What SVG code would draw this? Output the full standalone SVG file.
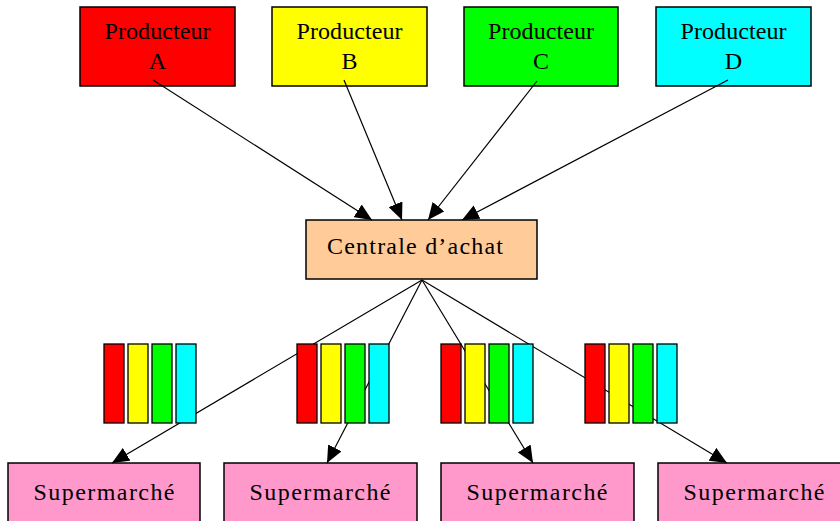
<svg xmlns="http://www.w3.org/2000/svg" width="840" height="521" viewBox="0 0 840 521">
<style>
.box{stroke:#000;stroke-width:1.5}
.bar{stroke:#000;stroke-width:1.3}
.t{font-family:"Liberation Serif","Times New Roman",serif;font-size:24px;fill:#000;text-anchor:middle}
.c{stroke:#000;stroke-width:1.2;fill:none}
.r{fill:#ff0000}.y{fill:#ffff00}.g{fill:#00ff00}.b{fill:#00ffff}
</style>
<defs>
<marker id="ah" markerUnits="userSpaceOnUse" markerWidth="17" markerHeight="15" refX="17" refY="7.5" orient="auto" viewBox="0 0 17 15">
<path d="M0,0 L17,7.5 L0,15 z" fill="#000"/>
</marker>
</defs>
<rect width="840" height="521" fill="#fff"/>
<g id="prodA"><rect class="box r" x="80" y="7" width="155" height="79"/><text class="t" x="157.5" y="39" textLength="106" lengthAdjust="spacing">Producteur</text><text class="t" x="157.5" y="69">A</text></g>
<g id="prodB"><rect class="box y" x="272" y="7" width="155" height="79"/><text class="t" x="349.5" y="39" textLength="106" lengthAdjust="spacing">Producteur</text><text class="t" x="349.5" y="69">B</text></g>
<g id="prodC"><rect class="box g" x="464" y="7" width="154" height="79"/><text class="t" x="541" y="39" textLength="106" lengthAdjust="spacing">Producteur</text><text class="t" x="541" y="69">C</text></g>
<g id="prodD"><rect class="box b" x="656" y="7" width="155" height="79"/><text class="t" x="733.5" y="39" textLength="106" lengthAdjust="spacing">Producteur</text><text class="t" x="733.5" y="69">D</text></g>
<g id="centrale"><rect class="box" fill="#ffcc99" x="306" y="220" width="231" height="59"/><text class="t" x="415" y="254" textLength="176" lengthAdjust="spacing">Centrale d’achat</text></g>
<g id="super1"><rect class="box" fill="#ff99cc" x="8" y="463" width="192" height="70"/><text class="t" x="104" y="500" textLength="141" lengthAdjust="spacing">Supermarché</text></g>
<g id="super2"><rect class="box" fill="#ff99cc" x="224" y="463" width="193" height="70"/><text class="t" x="320" y="500" textLength="141" lengthAdjust="spacing">Supermarché</text></g>
<g id="super3"><rect class="box" fill="#ff99cc" x="441" y="463" width="193" height="70"/><text class="t" x="537" y="500" textLength="141" lengthAdjust="spacing">Supermarché</text></g>
<g id="super4"><rect class="box" fill="#ff99cc" x="658" y="463" width="192" height="70"/><text class="t" x="754" y="500" textLength="141" lengthAdjust="spacing">Supermarché</text></g>
<g id="connectors">
<line class="c" x1="153" y1="80" x2="372" y2="220" marker-end="url(#ah)"/>
<line class="c" x1="344" y1="80" x2="402" y2="220" marker-end="url(#ah)"/>
<line class="c" x1="537" y1="81" x2="428" y2="220" marker-end="url(#ah)"/>
<line class="c" x1="728" y1="80" x2="462" y2="220" marker-end="url(#ah)"/>
<line class="c" x1="422" y1="280" x2="112" y2="463" marker-end="url(#ah)"/>
<line class="c" x1="422" y1="280" x2="327" y2="463" marker-end="url(#ah)"/>
<line class="c" x1="422" y1="280" x2="533" y2="463" marker-end="url(#ah)"/>
<line class="c" x1="422" y1="280" x2="727" y2="463" marker-end="url(#ah)"/>
</g>
<g id="stack1"><rect class="bar r" x="104" y="344" width="20" height="79"/><rect class="bar y" x="128" y="344" width="20" height="79"/><rect class="bar g" x="152" y="344" width="20" height="79"/><rect class="bar b" x="176" y="344" width="20" height="79"/></g>
<g id="stack2"><rect class="bar r" x="297" y="344" width="20" height="79"/><rect class="bar y" x="321" y="344" width="20" height="79"/><rect class="bar g" x="345" y="344" width="20" height="79"/><rect class="bar b" x="369" y="344" width="20" height="79"/></g>
<g id="stack3"><rect class="bar r" x="441" y="344" width="20" height="79"/><rect class="bar y" x="465" y="344" width="20" height="79"/><rect class="bar g" x="489" y="344" width="20" height="79"/><rect class="bar b" x="513" y="344" width="20" height="79"/></g>
<g id="stack4"><rect class="bar r" x="585" y="344" width="20" height="79"/><rect class="bar y" x="609" y="344" width="20" height="79"/><rect class="bar g" x="633" y="344" width="20" height="79"/><rect class="bar b" x="657" y="344" width="20" height="79"/></g>
</svg>
